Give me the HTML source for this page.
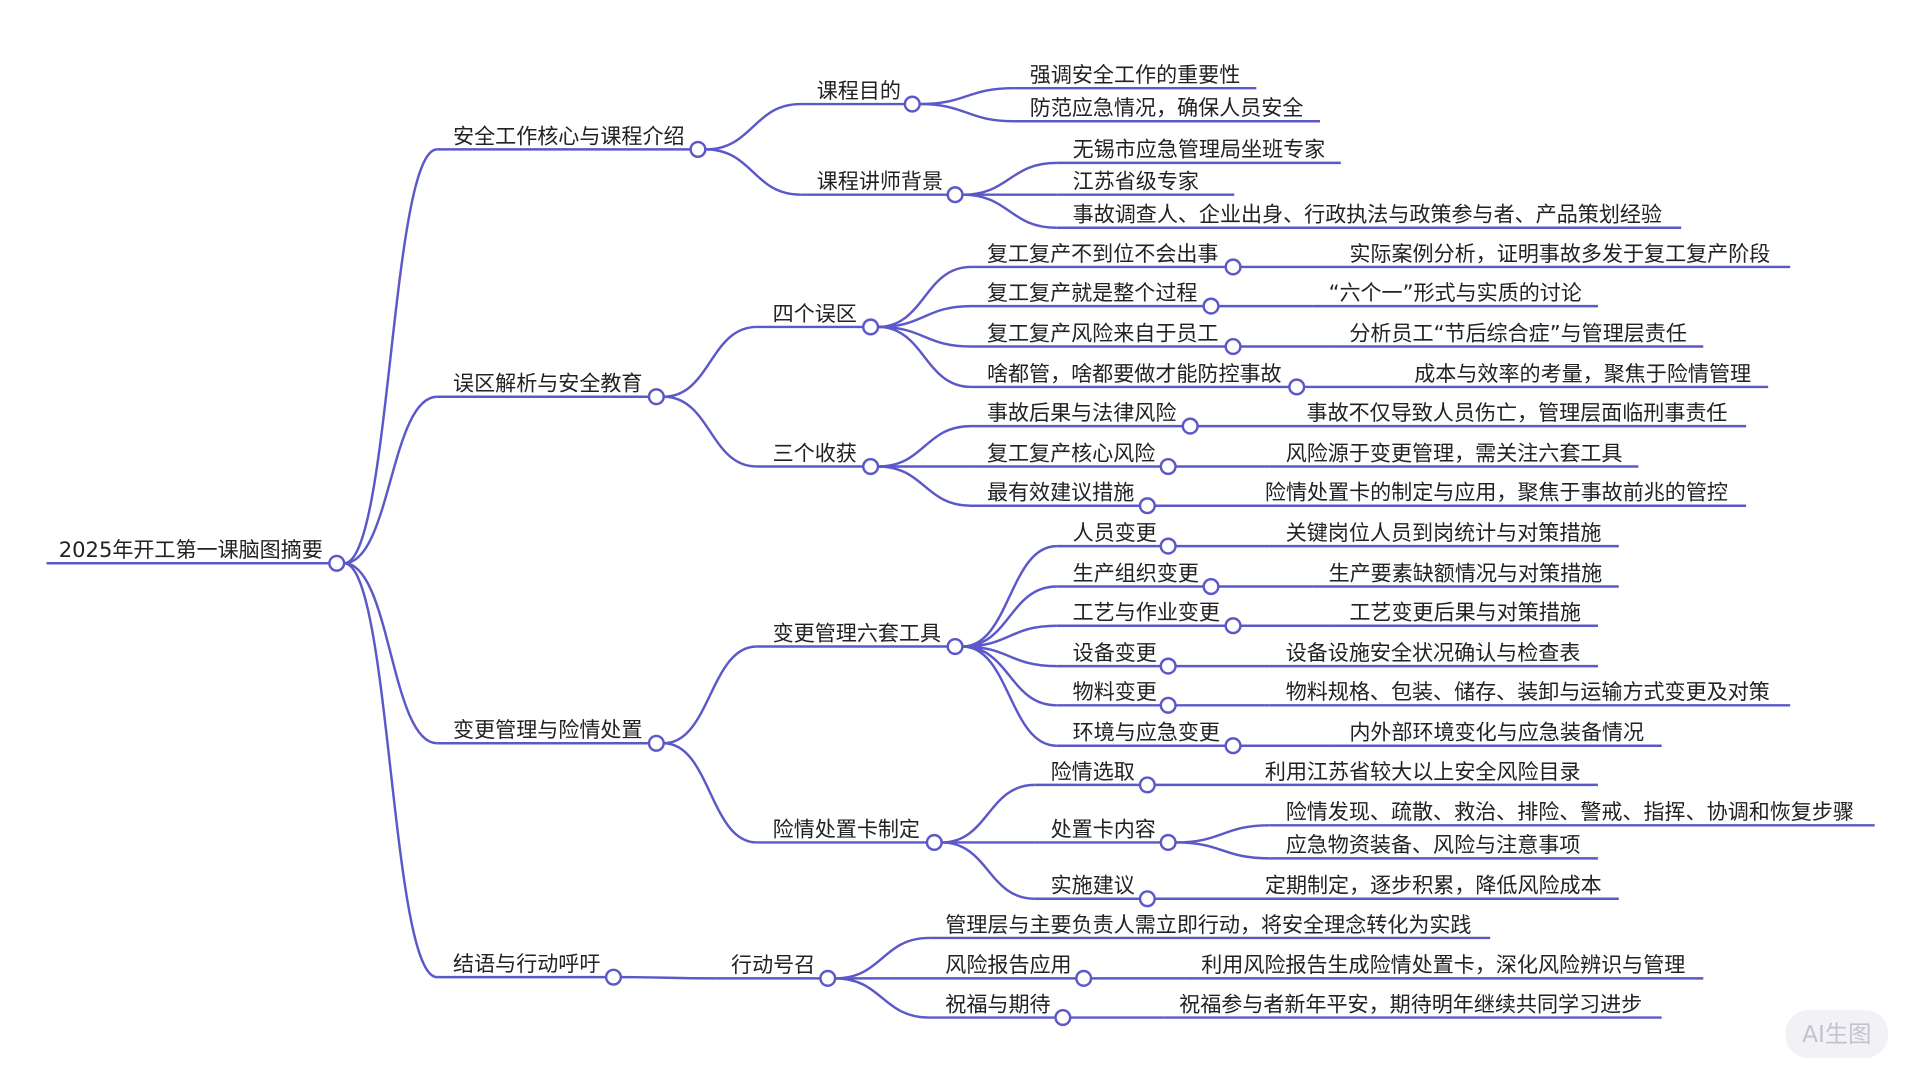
<!DOCTYPE html>
<html><head><meta charset="utf-8"><style>
html,body{margin:0;padding:0;background:#fff;width:1920px;height:1080px;overflow:hidden}
svg text{font-family:"DejaVu Sans","Noto Sans CJK SC",sans-serif;font-size:17.2px;fill:#222}
</style></head><body>
<svg id="s" width="1920" height="1080" viewBox="0 0 1568 882" xmlns="http://www.w3.org/2000/svg">
<g id="g" fill="none" stroke="#5b58c8" stroke-width="2"></g>
<g id="t"></g>
<rect x="1458" y="825" width="84" height="39" rx="19" fill="#f1f1f6"/>
<text x="1500" y="851" text-anchor="middle" style="fill:#c3c3cf;font-size:19px">AI生图</text>
</svg>
<script>
function L(t,x,y,e){return {t:t,x:x,y:y,e:e};}
function N(t,x,y,c,k){return {t:t,x:x,y:y,c:c,k:k};}
var root=N("2025年开工第一课脑图摘要",48,460,275,[
 N("安全工作核心与课程介绍",370,122,570,[
  N("课程目的",667,85,745,[L("强调安全工作的重要性",841,72,1026),L("防范应急情况，确保人员安全",841,99,1078)]),
  N("课程讲师背景",667,159,780,[L("无锡市应急管理局坐班专家",876,133,1095),L("江苏省级专家",876,159,1008),L("事故调查人、企业出身、行政执法与政策参与者、产品策划经验",876,186,1373)])
 ]),
 N("误区解析与安全教育",370,324,536,[
  N("四个误区",631,267,711,[
   N("复工复产不到位不会出事",806,218,1007,[L("实际案例分析，证明事故多发于复工复产阶段",1102,218,1462)]),
   N("复工复产就是整个过程",806,250,989,[L("“六个一”形式与实质的讨论",1085,250,1305)]),
   N("复工复产风险来自于员工",806,283,1007,[L("分析员工“节后综合症”与管理层责任",1102,283,1391)]),
   N("啥都管，啥都要做才能防控事故",806,316,1059,[L("成本与效率的考量，聚焦于险情管理",1155,316,1444)])
  ]),
  N("三个收获",631,381,711,[
   N("事故后果与法律风险",806,348,972,[L("事故不仅导致人员伤亡，管理层面临刑事责任",1067,348,1426)]),
   N("复工复产核心风险",806,381,954,[L("风险源于变更管理，需关注六套工具",1050,381,1338)]),
   N("最有效建议措施",806,413,937,[L("险情处置卡的制定与应用，聚焦于事故前兆的管控",1033,413,1426)])
  ])
 ]),
 N("变更管理与险情处置",370,607,536,[
  N("变更管理六套工具",631,528,780,[
   N("人员变更",876,446,954,[L("关键岗位人员到岗统计与对策措施",1050,446,1322)]),
   N("生产组织变更",876,479,989,[L("生产要素缺额情况与对策措施",1085,479,1322)]),
   N("工艺与作业变更",876,511,1007,[L("工艺变更后果与对策措施",1102,511,1305)]),
   N("设备变更",876,544,954,[L("设备设施安全状况确认与检查表",1050,544,1305)]),
   N("物料变更",876,576,954,[L("物料规格、包装、储存、装卸与运输方式变更及对策",1050,576,1462)]),
   N("环境与应急变更",876,609,1007,[L("内外部环境变化与应急装备情况",1102,609,1357)])
  ]),
  N("险情处置卡制定",631,688,763,[
   N("险情选取",858,641,937,[L("利用江苏省较大以上安全风险目录",1033,641,1305)]),
   N("处置卡内容",858,688,954,[L("险情发现、疏散、救治、排险、警戒、指挥、协调和恢复步骤",1050,674,1531),L("应急物资装备、风险与注意事项",1050,701,1305)]),
   N("实施建议",858,734,937,[L("定期制定，逐步积累，降低风险成本",1033,734,1322)])
  ])
 ]),
 N("结语与行动呼吁",370,798,501,[
  N("行动号召",597,799,676,[
   L("管理层与主要负责人需立即行动，将安全理念转化为实践",772,766,1217),
   N("风险报告应用",772,799,885,[L("利用风险报告生成险情处置卡，深化风险辨识与管理",981,799,1391)]),
   N("祝福与期待",772,831,868,[L("祝福参与者新年平安，期待明年继续共同学习进步",963,831,1357)])
  ])
 ])
]);
var g=document.getElementById('g'),tg=document.getElementById('t'),NS="http://www.w3.org/2000/svg",circ=[];
function el(p,n,a){var e=document.createElementNS(NS,n);for(var k in a)e.setAttribute(k,a[k]);p.appendChild(e);return e;}
function draw(n,sx){
 var tx=el(tg,'text',{x:n.x,y:n.y-5});tx.textContent=n.t;
 if(n.c){
  el(g,'line',{x1:sx,y1:n.y,x2:n.c-6,y2:n.y});
  circ.push([n.c,n.y]);
  n.k.forEach(function(k){
   var x0=n.c+6,y0=n.y,x1=k.x-13,y1=k.y,m=(x1-x0)*0.5;
   el(g,'path',{d:"M"+x0+","+y0+" C"+(x0+m)+","+y0+" "+(x1-m)+","+y1+" "+x1+","+y1});
   draw(k,x1);
  });
 } else {
  el(g,'line',{x1:sx,y1:n.y,x2:n.e,y2:n.y});
 }
}
draw(root,38);
circ.forEach(function(c){el(g,'circle',{cx:c[0],cy:c[1],r:6,fill:'#fff'});});
</script>
</body></html>
